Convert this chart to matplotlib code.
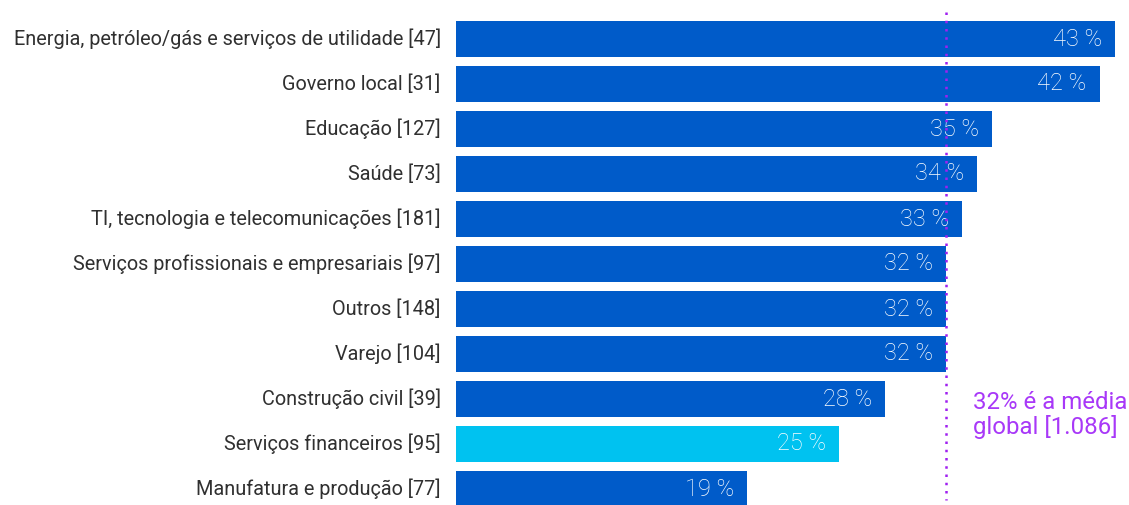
import matplotlib
matplotlib.use("Agg")
import matplotlib.pyplot as plt

categories = [
    "Energia, petróleo/gás e serviços de utilidade [47]",
    "Governo local [31]",
    "Educação [127]",
    "Saúde [73]",
    "TI, tecnologia e telecomunicações [181]",
    "Serviços profissionais e empresariais [97]",
    "Outros [148]",
    "Varejo [104]",
    "Construção civil [39]",
    "Serviços financeiros [95]",
    "Manufatura e produção [77]",
]
values = [43, 42, 35, 34, 33, 32, 32, 32, 28, 25, 19]
highlight = "Serviços financeiros [95]"
global_avg = 32
avg_label = "32% é a média\nglobal [1.086]"

DARK = "#005BC9"
LIGHT = "#00C2F0"
PURPLE = "#A020F0"
PURPLE_TEXT = "#A838F8"

plt.rcParams["font.family"] = ["Roboto", "DejaVu Sans"]

W, H = 1129, 505
fig = plt.figure(figsize=(W / 100, H / 100), dpi=100)
ax = fig.add_axes([456 / W, 0, 1 - 456 / W, 1])

px_per_unit = (1115 - 456) / 43
ax.set_xlim(0, (W - 456) / px_per_unit)
ax.set_ylim(10 + 16 / 45, -39 / 45)

ypos = list(range(len(categories)))
colors = [LIGHT if c == highlight else DARK for c in categories]
ax.barh(ypos, values, height=0.82, color=colors, zorder=2)

for y, v in zip(ypos, values):
    ax.text(v - 13 / px_per_unit, y, f"{v} %", ha="right", va="center",
            color="white", fontsize=17, fontweight="light", zorder=3)

for y, c in zip(ypos, categories):
    ax.annotate(c, xy=(0, y), xycoords="data", xytext=(-11, 0),
                textcoords="offset points", ha="right", va="center",
                fontsize=14.35, color="#303030",
                annotation_clip=False)

ax.vlines(global_avg, -0.6, 10 + 11 / 45, colors=PURPLE, linestyles=(0, (1, 2.3)),
          linewidth=1.8, zorder=4)
ax.text(global_avg + 27 / px_per_unit, 8.356, avg_label, ha="left", va="center",
        color=PURPLE_TEXT, fontsize=17.3, linespacing=1.1)

ax.axis("off")
fig.savefig("out.png", dpi=100)
